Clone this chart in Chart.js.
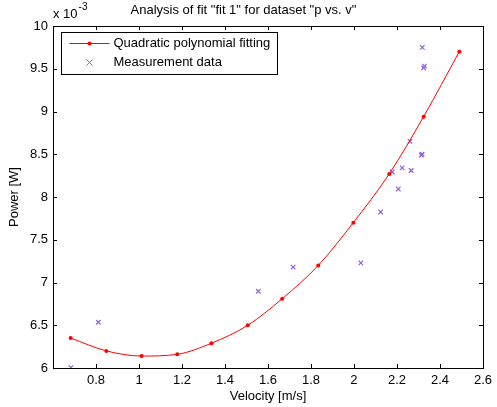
<!DOCTYPE html>
<html>
<head>
<meta charset="utf-8">
<script src="https://cdn.jsdelivr.net/npm/chart.js@4"></script>
<style>
    body { margin: 0; background: #fff; }
    #wrap { width: 497px; height: 407px; }
</style>
</head>
<body>
<div id="wrap"><canvas id="canvas" width="497" height="407"></canvas></div>
<script>
// power values are in units of 10^-3 W
var fitVelocity = [0.682, 0.848, 1.012, 1.178, 1.337, 1.506, 1.666, 1.834, 1.997, 2.164, 2.324, 2.490];
var fitPower = [6.35, 6.20, 6.14, 6.16, 6.29, 6.50, 6.81, 7.20, 7.70, 8.27, 8.94, 9.70];

var measVelocity = [0.683, 0.811, 1.555, 1.717, 2.032, 2.124, 2.178, 2.206, 2.224, 2.261, 2.266, 2.313, 2.317, 2.318, 2.324, 2.328];
var measPower = [6.005, 6.535, 6.897, 7.18, 7.23, 7.825, 8.293, 8.094, 8.34, 8.65, 8.31, 8.49, 8.50, 9.75, 9.51, 9.53];

var xTicks = [0.8, 1, 1.2, 1.4, 1.6, 1.8, 2, 2.2, 2.4, 2.6];
var yTicks = [6, 6.5, 7, 7.5, 8, 8.5, 9, 9.5, 10];

var FONT = '"Liberation Sans", Arial, sans-serif';

function toPoints(xs, ys) {
    return xs.map((v, i) => ({ x: v, y: ys[i] }));
}

// box, inward ticks on all sides, legend and the exponent label
var matlabAxes = {
    id: 'matlabAxes',
    afterDraw(chart) {
        const ctx = chart.ctx;
        const a = chart.chartArea;
        const xs = chart.scales.x;
        const ys = chart.scales.y;
        const tl = 4;

        ctx.save();
        ctx.strokeStyle = '#000';
        ctx.lineWidth = 1;
        ctx.beginPath();
        xTicks.forEach(v => {
            const px = Math.round(xs.getPixelForValue(v)) + 0.5;
            ctx.moveTo(px, a.bottom); ctx.lineTo(px, a.bottom - tl);
            ctx.moveTo(px, a.top); ctx.lineTo(px, a.top + tl);
        });
        yTicks.forEach(v => {
            const py = Math.round(ys.getPixelForValue(v)) + 0.5;
            ctx.moveTo(a.left, py); ctx.lineTo(a.left + tl, py);
            ctx.moveTo(a.right, py); ctx.lineTo(a.right - tl, py);
        });
        ctx.stroke();
        ctx.strokeRect(Math.round(a.left) + 0.5, Math.round(a.top) + 0.5,
            Math.round(a.right - a.left), Math.round(a.bottom - a.top));

        // legend
        const lx = Math.round(a.left) + 8.5, ly = Math.round(a.top) + 6.5;
        ctx.fillStyle = '#fff';
        ctx.fillRect(lx, ly, 216, 42);
        ctx.strokeRect(lx, ly, 216, 42);
        const ds = chart.data.datasets;
        ctx.font = '13px ' + FONT;
        ctx.textBaseline = 'middle';
        const row1 = ly + 11, row2 = ly + 30;

        ctx.strokeStyle = ds[0].borderColor;
        ctx.beginPath();
        ctx.moveTo(lx + 8, row1); ctx.lineTo(lx + 48, row1);
        ctx.stroke();
        ctx.fillStyle = ds[0].pointBackgroundColor;
        ctx.beginPath();
        ctx.arc(lx + 28, row1, 2, 0, Math.PI * 2);
        ctx.fill();

        ctx.strokeStyle = ds[1].borderColor;
        ctx.beginPath();
        ctx.moveTo(lx + 25, row2 - 3); ctx.lineTo(lx + 31, row2 + 3);
        ctx.moveTo(lx + 31, row2 - 3); ctx.lineTo(lx + 25, row2 + 3);
        ctx.stroke();

        ctx.fillStyle = '#000';
        ctx.fillText(ds[0].label, lx + 52, row1);
        ctx.fillText(ds[1].label, lx + 52, row2);

        // exponent
        ctx.textBaseline = 'alphabetic';
        ctx.font = '13px ' + FONT;
        ctx.fillText('x 10', a.left, 18);
        const w = ctx.measureText('x 10').width;
        ctx.font = '10px ' + FONT;
        ctx.fillText('-3', a.left + w + 1, 10);
        ctx.restore();
    }
};

var ctx = document.getElementById('canvas').getContext('2d');
var chart = new Chart(ctx, {
    type: 'scatter',
    data: {
        datasets: [{
            label: 'Quadratic polynomial fitting',
            data: toPoints(fitVelocity, fitPower),
            showLine: true,
            borderColor: '#ff0000',
            backgroundColor: '#ff0000',
            pointBackgroundColor: '#ff0000',
            pointBorderWidth: 0,
            pointRadius: 2,
            borderWidth: 1,
            cubicInterpolationMode: 'monotone'
        }, {
            label: 'Measurement data',
            data: toPoints(measVelocity, measPower),
            borderColor: '#9160d8',
            backgroundColor: '#9160d8',
            pointStyle: 'crossRot',
            pointRadius: 3.2,
            borderWidth: 1.2
        }]
    },
    plugins: [matlabAxes],
    options: {
        responsive: false,
        animation: false,
        layout: { padding: { top: 0, right: 10, left: 0, bottom: 0 } },
        plugins: {
            legend: { display: false },
            tooltip: { enabled: false },
            title: {
                display: true,
                text: 'Analysis of fit "fit 1" for dataset "p vs. v"',
                color: '#000',
                font: { family: FONT, size: 13, weight: 'normal' },
                padding: { top: 3, bottom: 7.4 }
            }
        },
        scales: {
            x: {
                type: 'linear',
                min: 0.6,
                max: 2.6,
                afterBuildTicks: (s) => { s.ticks = xTicks.map(v => ({ value: v })); },
                afterFit: (s) => { s.height = 39; },
                grid: { display: false, drawTicks: false },
                border: { display: false },
                ticks: {
                    color: '#000', font: { family: FONT, size: 13 }, padding: 5, maxRotation: 0,
                    callback: (v) => String(v)
                },
                title: {
                    display: true, text: 'Velocity [m/s]', color: '#000',
                    font: { family: FONT, size: 13 }, padding: { top: 0, bottom: 3 }
                }
            },
            y: {
                type: 'linear',
                min: 6,
                max: 10,
                afterBuildTicks: (s) => { s.ticks = yTicks.map(v => ({ value: v })); },
                afterFit: (s) => { s.width = 53; },
                grid: { display: false, drawTicks: false },
                border: { display: false },
                ticks: {
                    color: '#000', font: { family: FONT, size: 13 }, padding: 5,
                    callback: (v) => String(v)
                },
                title: {
                    display: true, text: 'Power [W]', color: '#000',
                    font: { family: FONT, size: 13 }, padding: { top: 7, bottom: 0 }
                }
            }
        }
    }
});
</script>
</body>
</html>
